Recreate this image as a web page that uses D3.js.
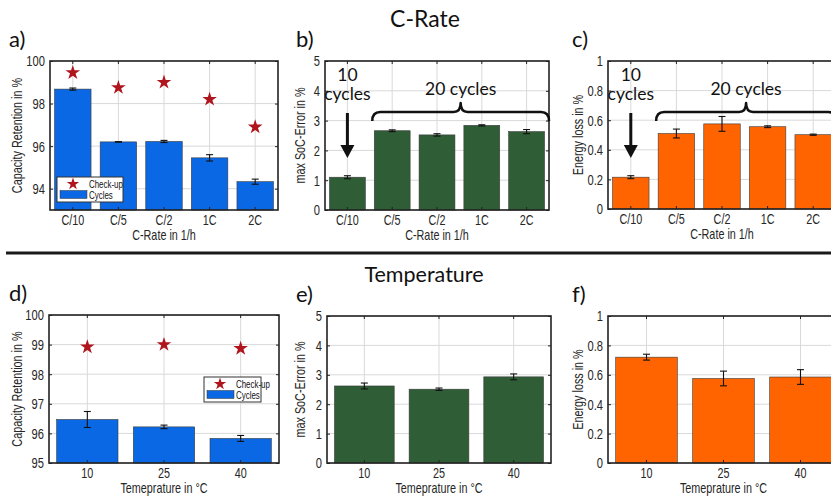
<!DOCTYPE html>
<html>
<head>
<meta charset="utf-8">
<script src="https://cdn.jsdelivr.net/npm/d3@7"></script>
<style>
  html, body { margin: 0; padding: 0; background: #fff; }
  svg { display: block; }
  .tick text { font-family: "Liberation Sans", Arial, sans-serif; fill: #262626; }
</style>
</head>
<body>
<svg id="chart" width="831" height="499"></svg>
<script>
// ---------------- DATA ----------------
const cRateCats = ["C/10", "C/5", "C/2", "1C", "2C"];
const cRateCapCycles = [98.68, 96.2, 96.22, 95.45, 94.33];
const cRateCapCyclesErr = [0.05, 0.01, 0.05, 0.15, 0.12];
const cRateCapCheckup = [99.45, 98.75, 99.0, 98.2, 96.9];
const cRateSocErr = [1.1, 2.66, 2.52, 2.84, 2.63];
const cRateSocErrErr = [0.05, 0.03, 0.04, 0.02, 0.07];
const cRateEnergy = [0.215, 0.51, 0.575, 0.556, 0.502];
const cRateEnergyErr = [0.01, 0.03, 0.05, 0.006, 0.004];

const tempCats = ["10", "25", "40"];
const tempCapCycles = [96.47, 96.22, 95.83];
const tempCapCyclesErr = [0.27, 0.06, 0.1];
const tempCapCheckup = [98.92, 99.0, 98.87];
const tempSocErr = [2.62, 2.51, 2.93];
const tempSocErrErr = [0.1, 0.04, 0.1];
const tempEnergy = [0.72, 0.575, 0.585];
const tempEnergyErr = [0.02, 0.05, 0.05];

const capTicksCRate = [94, 96, 98, 100];
const capTicksTemp = [95, 96, 97, 98, 99, 100];
const socTicks = [0, 1, 2, 3, 4, 5];
const energyTicks = [0, 0.2, 0.4, 0.6, 0.8, 1];

const legendLabels = ["Check-up", "Cycles"];
const annotShort = ["10", "cycles"];
const annotLong = "20 cycles";

// ---------------- STYLE ----------------
const BLUE = "#0a68e4", GREEN = "#2f5e36", ORANGE = "#ff6400", STAR = "#b0141c";
const SANS = '"Liberation Sans", Arial, sans-serif';
const ROUND = 'Lato, "Open Sans", "Noto Sans", sans-serif';
const NARROW_K = 0.72;

const svg = d3.select("#chart");

function condense(sel, k) {
  sel.each(function () {
    const len = this.getComputedTextLength();
    if (len > 0) d3.select(this).attr("textLength", len * k).attr("lengthAdjust", "spacingAndGlyphs");
  });
}

function drawPanel(cfg) {
  const g = svg.append("g");
  const x = d3.scaleBand().domain(cfg.cats).range([cfg.x0, cfg.x1]).paddingInner(0.2).paddingOuter(0.1);
  const y = d3.scaleLinear().domain(cfg.domain).range([cfg.y1, cfg.y0]);

  // grid
  g.append("g").selectAll("line").data(cfg.ticks).join("line")
    .attr("x1", cfg.x0).attr("x2", cfg.x1).attr("y1", d => y(d)).attr("y2", d => y(d))
    .attr("stroke", "#d9d9d9").attr("stroke-width", 1);
  g.append("g").selectAll("line").data(cfg.cats).join("line")
    .attr("x1", d => x(d) + x.bandwidth() / 2).attr("x2", d => x(d) + x.bandwidth() / 2)
    .attr("y1", cfg.y0).attr("y2", cfg.y1)
    .attr("stroke", "#d9d9d9").attr("stroke-width", 1);

  // bars
  g.append("g").selectAll("rect").data(cfg.values).join("rect")
    .attr("x", (d, i) => x(cfg.cats[i]))
    .attr("width", x.bandwidth())
    .attr("y", d => y(d))
    .attr("height", d => cfg.y1 - y(d))
    .attr("fill", cfg.color).attr("stroke", "#3a3a3a").attr("stroke-width", 0.6);

  // error bars
  const eb = g.append("g").attr("stroke", "#111").attr("stroke-width", 1.1);
  cfg.values.forEach((v, i) => {
    const cx = x(cfg.cats[i]) + x.bandwidth() / 2;
    const e = cfg.errs[i];
    eb.append("line").attr("x1", cx).attr("x2", cx).attr("y1", y(v - e)).attr("y2", y(v + e));
    eb.append("line").attr("x1", cx - 3.5).attr("x2", cx + 3.5).attr("y1", y(v - e)).attr("y2", y(v - e));
    eb.append("line").attr("x1", cx - 3.5).attr("x2", cx + 3.5).attr("y1", y(v + e)).attr("y2", y(v + e));
  });

  // check-up stars
  if (cfg.checkup) {
    g.append("g").selectAll("path").data(cfg.checkup).join("path")
      .attr("d", d3.symbol(d3.symbolStar, 66))
      .attr("transform", (d, i) => `translate(${x(cfg.cats[i]) + x.bandwidth() / 2},${y(d)})`)
      .attr("fill", STAR);
  }

  // axes (inward ticks, box)
  const fmt = cfg.fmt || (d => d);
  const ay = g.append("g").attr("transform", `translate(${cfg.x0},0)`)
    .call(d3.axisLeft(y).tickValues(cfg.ticks).tickFormat(fmt).tickSizeInner(-3).tickSizeOuter(0).tickPadding(5));
  ay.selectAll("text").style("font-size", "15.5px").call(condense, NARROW_K);
  const ax = g.append("g").attr("transform", `translate(0,${cfg.y1})`)
    .call(d3.axisBottom(x).tickSizeInner(-3).tickSizeOuter(0).tickPadding(4));
  ax.selectAll("text").style("font-size", "15px").call(condense, NARROW_K);
  g.append("g").attr("transform", `translate(${cfg.x1},0)`)
    .call(d3.axisRight(y).tickValues(cfg.ticks).tickFormat("").tickSizeInner(-3).tickSizeOuter(0));
  g.append("g").attr("transform", `translate(0,${cfg.y0})`)
    .call(d3.axisTop(x).tickFormat("").tickSizeInner(-3).tickSizeOuter(0));
  g.selectAll(".domain").remove();
  g.selectAll(".tick line").attr("stroke", "#222").attr("stroke-width", 1);
  g.append("rect").attr("x", cfg.x0).attr("y", cfg.y0)
    .attr("width", cfg.x1 - cfg.x0).attr("height", cfg.y1 - cfg.y0)
    .attr("fill", "none").attr("stroke", "#222").attr("stroke-width", 1.6);

  // labels
  g.append("text").attr("x", (cfg.x0 + cfg.x1) / 2).attr("y", cfg.y1 + 30)
    .attr("text-anchor", "middle").style("font-family", SANS).style("font-size", "15px").attr("fill", "#262626")
    .text(cfg.xlabel).call(condense, NARROW_K);
  g.append("text")
    .attr("transform", `translate(${cfg.ylabelX},${(cfg.y0 + cfg.y1) / 2}) rotate(-90)`)
    .attr("text-anchor", "middle").style("font-family", SANS).style("font-size", "15px").attr("fill", "#262626")
    .text(cfg.ylabel).call(condense, NARROW_K);
  g.append("text").attr("x", cfg.letterX).attr("y", cfg.y0 - 14)
    .style("font-family", ROUND).style("font-size", "22px").attr("fill", "#111")
    .text(cfg.letter);

  // legend
  if (cfg.legend) {
    const L = cfg.legend;
    const lg = g.append("g").attr("transform", `translate(${L.x},${L.y})`);
    lg.append("rect").attr("width", L.w).attr("height", 25).attr("fill", "#fff")
      .attr("stroke", "#333").attr("stroke-width", 1);
    lg.append("path").attr("d", d3.symbol(d3.symbolStar, 48)).attr("transform", "translate(16,7)").attr("fill", STAR);
    lg.append("rect").attr("x", 3).attr("y", 13.5).attr("width", 27).attr("height", 8)
      .attr("fill", BLUE).attr("stroke", "#333").attr("stroke-width", 0.5);
    lg.append("text").attr("x", 32).attr("y", 10.5).text(legendLabels[0])
      .style("font-family", SANS).style("font-size", "11px").attr("fill", "#111").call(condense, NARROW_K);
    lg.append("text").attr("x", 32).attr("y", 21.5).text(legendLabels[1])
      .style("font-family", SANS).style("font-size", "11px").attr("fill", "#111").call(condense, NARROW_K);
  }

  // annotation (arrow + brace)
  if (cfg.annot) {
    const ag = g.append("g");
    const cx = x(cfg.cats[0]) + x.bandwidth() / 2;
    const t = cfg.y0;
    ag.append("text").attr("x", cx).attr("y", t + 20).attr("text-anchor", "middle")
      .style("font-family", ROUND).style("font-size", "17.5px").attr("fill", "#111").text(annotShort[0]);
    ag.append("text").attr("x", cx).attr("y", t + 39).attr("text-anchor", "middle")
      .style("font-family", ROUND).style("font-size", "17.5px").attr("fill", "#111").text(annotShort[1]);
    ag.append("line").attr("x1", cx).attr("x2", cx).attr("y1", t + 52).attr("y2", t + 86)
      .attr("stroke", "#111").attr("stroke-width", 3);
    ag.append("path").attr("d", `M${cx - 7},${t + 84} L${cx + 7},${t + 84} L${cx},${t + 97} Z`).attr("fill", "#111");

    const bx0 = x(cfg.cats[1]) - 2;
    const bx1 = cfg.x1;
    const mid = (bx0 + bx1) / 2;
    const yl = t + 51, ye = t + 60, yp = t + 42;
    const r = 5;
    const d = `M${bx0},${ye} Q${bx0},${yl} ${bx0 + r + 3},${yl} L${mid - r - 2},${yl} Q${mid},${yl} ${mid},${yp}` +
              ` Q${mid},${yl} ${mid + r + 2},${yl} L${bx1 - r - 3},${yl} Q${bx1},${yl} ${bx1},${ye}`;
    ag.append("path").attr("d", d).attr("fill", "none").attr("stroke", "#111").attr("stroke-width", 2.5)
      .attr("stroke-linejoin", "round");
    ag.append("text").attr("x", mid).attr("y", t + 34).attr("text-anchor", "middle")
      .style("font-family", ROUND).style("font-size", "17.5px").attr("fill", "#111").text(annotLong);
  }
}

// ---------------- PANELS ----------------
drawPanel({ x0: 50, x1: 278, y0: 61, y1: 210, cats: cRateCats, values: cRateCapCycles, errs: cRateCapCyclesErr,
  checkup: cRateCapCheckup, domain: [93, 100], ticks: capTicksCRate, color: BLUE,
  xlabel: "C-Rate in 1/h", ylabel: "Capacity Retention in %", ylabelX: 22, letter: "a)", letterX: 9,
  legend: { x: 57, y: 177, w: 66 } });
drawPanel({ x0: 325, x1: 549, y0: 61, y1: 210, cats: cRateCats, values: cRateSocErr, errs: cRateSocErrErr,
  domain: [0, 5], ticks: socTicks, color: GREEN,
  xlabel: "C-Rate in 1/h", ylabel: "max SoC-Error in %", ylabelX: 305, letter: "b)", letterX: 296, annot: true });
drawPanel({ x0: 608, x1: 836, y0: 61, y1: 209, cats: cRateCats, values: cRateEnergy, errs: cRateEnergyErr,
  domain: [0, 1], ticks: energyTicks, color: ORANGE, fmt: d3.format("~g"),
  xlabel: "C-Rate in 1/h", ylabel: "Energy loss in %", ylabelX: 583, letter: "c)", letterX: 572, annot: true });

drawPanel({ x0: 49, x1: 279, y0: 315, y1: 463, cats: tempCats, values: tempCapCycles, errs: tempCapCyclesErr,
  checkup: tempCapCheckup, domain: [95, 100], ticks: capTicksTemp, color: BLUE,
  xlabel: "Temeprature in °C", ylabel: "Capacity Retention in %", ylabelX: 22, letter: "d)", letterX: 9,
  legend: { x: 204, y: 377, w: 57 } });
drawPanel({ x0: 327, x1: 551, y0: 316, y1: 463, cats: tempCats, values: tempSocErr, errs: tempSocErrErr,
  domain: [0, 5], ticks: socTicks, color: GREEN,
  xlabel: "Temeprature in °C", ylabel: "max SoC-Error in %", ylabelX: 305, letter: "e)", letterX: 296 });
drawPanel({ x0: 608, x1: 839, y0: 316, y1: 463, cats: tempCats, values: tempEnergy, errs: tempEnergyErr,
  domain: [0, 1], ticks: energyTicks, color: ORANGE, fmt: d3.format("~g"),
  xlabel: "Temeprature in °C", ylabel: "Energy loss in %", ylabelX: 583, letter: "f)", letterX: 572 });

// titles and separator
svg.append("text").attr("x", 425).attr("y", 27).attr("text-anchor", "middle")
  .style("font-family", ROUND).style("font-size", "23px").attr("fill", "#111").text("C-Rate");
svg.append("text").attr("x", 424).attr("y", 282).attr("text-anchor", "middle")
  .style("font-family", ROUND).style("font-size", "21.5px").attr("fill", "#111").text("Temperature");
svg.append("line").attr("x1", 6).attr("x2", 831).attr("y1", 253).attr("y2", 253)
  .attr("stroke", "#1a1a1a").attr("stroke-width", 3);
</script>
</body>
</html>
